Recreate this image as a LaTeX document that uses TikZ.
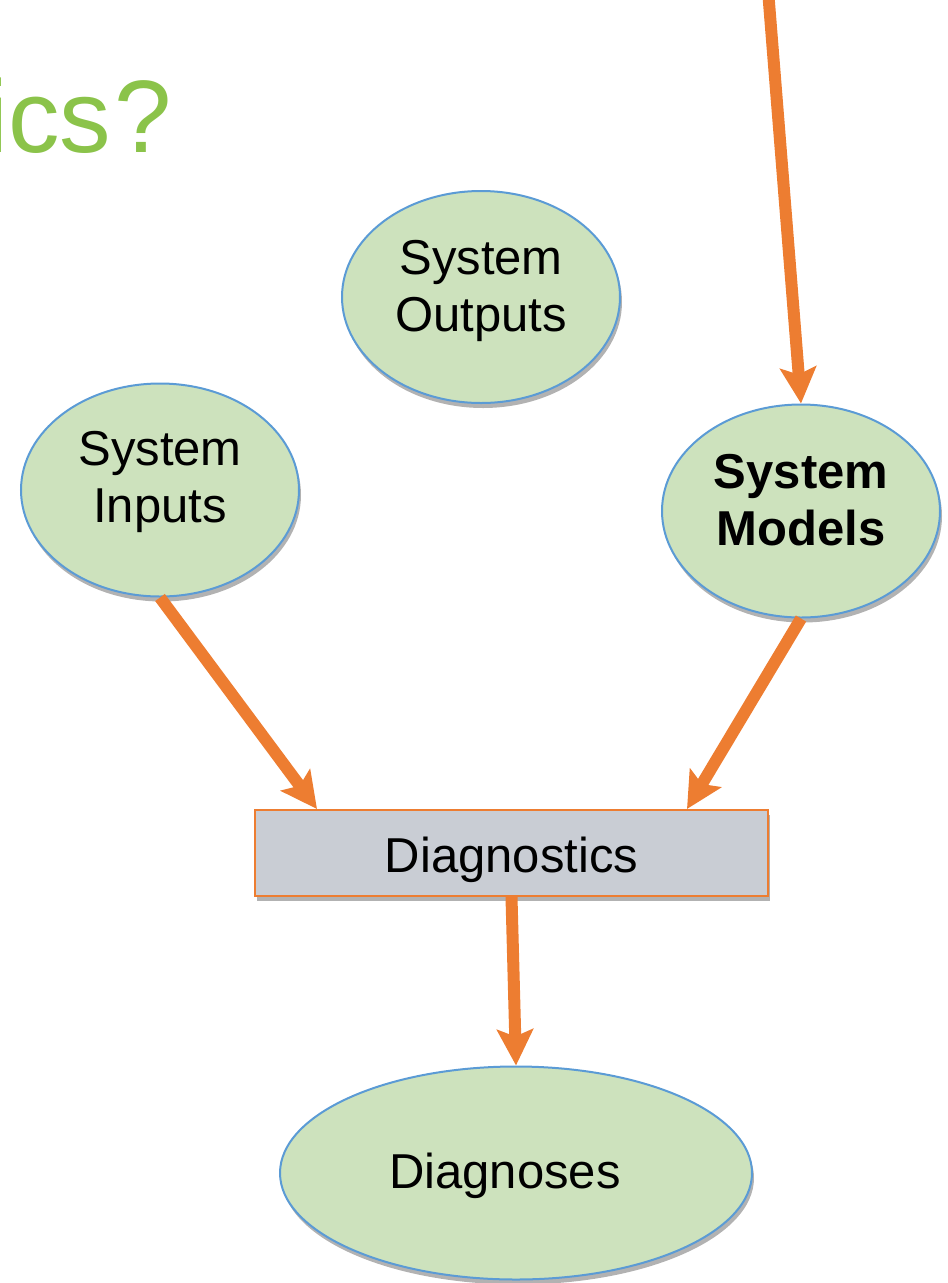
\documentclass[tikz,border=0pt]{standalone}
\usepackage{fontspec}
\setmainfont{Liberation Sans}
\usetikzlibrary{shapes.geometric,arrows.meta,shadows,calc}
\definecolor{nodegreen}{HTML}{CDE2BD}
\definecolor{edgeblue}{HTML}{5B9BD5}
\definecolor{arroworange}{HTML}{ED7D31}
\definecolor{boxgray}{HTML}{C9CDD4}
\definecolor{titlegreen}{HTML}{8BC34A}
\begin{document}
\begin{tikzpicture}[x=1pt,y=-1pt,
  softshadow/.style={drop shadow={shadow xshift=2pt, shadow yshift=-5pt, opacity=0.3, fill=black}},
  oval/.style={ellipse, draw=edgeblue, line width=2pt, fill=nodegreen, inner sep=0pt,
    font=\fontsize{49}{57}\selectfont, softshadow},
  twoline/.style={text height=68pt, text depth=0pt},
  procbox/.style={rectangle, draw=arroworange, line width=2pt, fill=boxgray, inner sep=0pt,
    font=\fontsize{49}{56}\selectfont, softshadow},
  flow/.style={color=arroworange, line width=12pt,
    -{Stealth[length=36pt,width=36pt,inset=7pt]}}]
\useasboundingbox (0,0) rectangle (948,1283);
\node[anchor=base west, text=titlegreen, inner sep=0pt,
  font=\fontsize{103}{110}\selectfont] (title) at (-15,152) {ics\kern3pt?};
\node[oval, twoline, minimum width=278pt, minimum height=212pt] (outputs) at (481,297)
  {\begin{tabular}[b]{@{}c@{}}System\\Outputs\end{tabular}};
\node[oval, text height=65pt, text depth=0pt, minimum width=278pt, minimum height=213pt] (inputs) at (160,490)
  {\begin{tabular}[b]{@{}c@{}}System\\Inputs\end{tabular}};
\node[oval, twoline, minimum width=278pt, minimum height=213pt] (models) at (801,511)
  {\bfseries\begin{tabular}[b]{@{}c@{}}System\\Models\end{tabular}};
\node[procbox, text height=38pt, text depth=0pt, minimum width=513pt, minimum height=86pt] (diag) at (511.5,853) {Diagnostics};
\node[oval, text height=30pt, text depth=0pt, minimum width=472pt, minimum height=213pt] (diagnoses) at (516,1173) {Diagnoses\hspace*{22pt}};
\coordinate (topend) at (768,-10);
\coordinate (inend) at ($(diag.north west)+(63,0)$);
\coordinate (modend) at ($(diag.north west)+(433,0)$);
\draw[flow] (topend) -- (models.north);
\draw[flow] (inputs.south) -- (inend);
\draw[flow] (models.south) -- (modend);
\draw[flow] (diag.south) -- (diagnoses.north);
\end{tikzpicture}
\end{document}
